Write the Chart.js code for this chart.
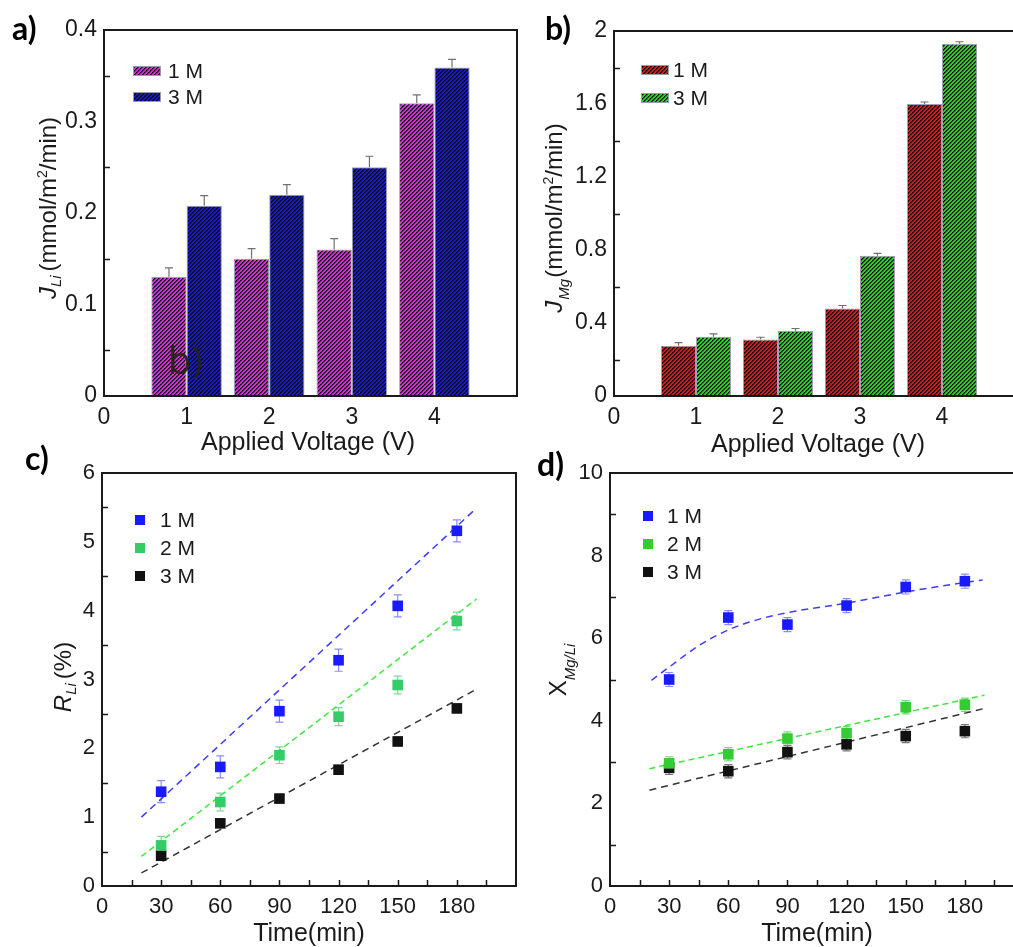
<!DOCTYPE html>
<html><head><meta charset="utf-8">
<script src="https://cdn.jsdelivr.net/npm/chart.js@4.4.1/dist/chart.umd.min.js"></script>
<style>
html,body{margin:0;padding:0;background:#fff;overflow:hidden;width:1013px;height:947px;}
canvas{position:absolute;left:0;top:0;}
</style></head><body>
<canvas id="ca" width="1040" height="947"></canvas>
<canvas id="cb" width="1040" height="947"></canvas>
<canvas id="cc" width="1040" height="947"></canvas>
<canvas id="cd" width="1040" height="947"></canvas>
<script>
// ---------------- data ----------------
const voltages = [1, 2, 3, 4];
const jLi1M = [0.130, 0.150, 0.160, 0.320];
const jLi1MErr = [0.010, 0.011, 0.012, 0.009];
const jLi3M = [0.208, 0.220, 0.250, 0.359];
const jLi3MErr = [0.011, 0.011, 0.012, 0.009];
const jMg1M = [0.276, 0.310, 0.480, 1.600];
const jMg1MErr = [0.016, 0.012, 0.016, 0.011];
const jMg3M = [0.325, 0.356, 0.769, 1.930];
const jMg3MErr = [0.015, 0.014, 0.013, 0.011];

const times = [30, 60, 90, 120, 150, 180];
const rLi1M = [1.37, 1.73, 2.54, 3.28, 4.07, 5.16];
const rLi1MErr = [0.16, 0.16, 0.16, 0.16, 0.16, 0.16];
const rLi2M = [0.59, 1.22, 1.90, 2.46, 2.92, 3.85];
const rLi2MErr = [0.13, 0.13, 0.12, 0.13, 0.13, 0.13];
const rLi3M = [0.44, 0.91, 1.27, 1.69, 2.10, 2.58];
const rLi3MErr = [0.06, 0.06, 0.06, 0.06, 0.06, 0.06];
const rLiFitT = [20, 190];
const rLiFit1M = [1.00, 5.49];
const rLiFit2M = [0.43, 4.17];
const rLiFit3M = [0.19, 2.86];

const xMgLi1M = [5.00, 6.50, 6.33, 6.79, 7.24, 7.38];
const xMgLi1MErr = [0.17, 0.17, 0.17, 0.17, 0.17, 0.17];
const xMgLi2M = [2.97, 3.19, 3.57, 3.70, 4.33, 4.39];
const xMgLi2MErr = [0.16, 0.16, 0.16, 0.16, 0.16, 0.16];
const xMgLi3M = [2.86, 2.78, 3.24, 3.43, 3.63, 3.75];
const xMgLi3MErr = [0.16, 0.16, 0.16, 0.16, 0.16, 0.16];
const xFit1MT = [21, 30, 45, 60, 75, 90, 120, 150, 180, 189];
const xFit1M = [4.98, 5.30, 5.82, 6.20, 6.45, 6.62, 6.85, 7.12, 7.35, 7.41];
const xFitLinT = [20, 190];
const xFit2M = [2.84, 4.62];
const xFit3M = [2.32, 4.30];

const barLabels = ['1 M', '3 M'];
const concLabels = ['1 M', '2 M', '3 M'];

// ---------------- helpers ----------------
const FONT = "'Liberation Sans', Arial, sans-serif";
const TXT = '#1a1a1a';
const W = 1040, H = 947;

function pts(xs, ys) { return xs.map((x, i) => ({ x: x, y: ys[i] })); }

function hatch(ctx, rgb) {
  const c = document.createElement('canvas'); c.width = 4; c.height = 4;
  const g = c.getContext('2d');
  const id = g.createImageData(4, 4);
  for (let y = 0; y < 4; y++) for (let x = 0; x < 4; x++) {
    const k = (y * 4 + x) * 4, m = (x + y) % 4;
    let col = rgb;
    if (m === 0) col = [10, 10, 10];
    else if (m === 1) col = [rgb[0] * 0.45, rgb[1] * 0.45, rgb[2] * 0.45];
    id.data[k] = col[0]; id.data[k + 1] = col[1]; id.data[k + 2] = col[2]; id.data[k + 3] = 255;
  }
  g.putImageData(id, 0, 0);
  return ctx.createPattern(c, 'repeat');
}

function drawRich(ctx, x, y, segs, rotate) {
  ctx.save();
  ctx.translate(x, y);
  if (rotate) ctx.rotate(-Math.PI / 2);
  let total = 0;
  segs.forEach(s => { ctx.font = s.font; s.w = ctx.measureText(s.t).width; total += s.w + (s.gap || 0); });
  let cx = -total / 2;
  ctx.textBaseline = 'alphabetic'; ctx.textAlign = 'left'; ctx.fillStyle = TXT;
  segs.forEach(s => { ctx.font = s.font; ctx.fillText(s.t, cx, s.dy || 0); cx += s.w + (s.gap || 0); });
  ctx.restore();
}

function panelPlugin(cfg) {
  return {
    id: 'panel',
    beforeDatasetsDraw(chart) {
      const ctx = chart.ctx, ys = chart.scales.y;
      chart.data.datasets.forEach((ds, i) => {
        if (!ds.errors) return;
        const meta = chart.getDatasetMeta(i);
        ctx.save();
        ctx.strokeStyle = ds.errColor; ctx.lineWidth = 1.2;
        meta.data.forEach((el, j) => {
          const v = ds.data[j].y, e = ds.errors[j];
          const x = el.x;
          const yt = ys.getPixelForValue(v + e);
          const yb = cfg.bars ? el.y : ys.getPixelForValue(v - e);
          const cw = 4;
          ctx.beginPath();
          ctx.moveTo(x, yb); ctx.lineTo(x, yt);
          ctx.moveTo(x - cw, yt); ctx.lineTo(x + cw, yt);
          if (!cfg.bars) { ctx.moveTo(x - cw, yb); ctx.lineTo(x + cw, yb); }
          ctx.stroke();
        });
        ctx.restore();
      });
    },
    afterDraw(chart) {
      const ctx = chart.ctx, a = chart.chartArea, xs = chart.scales.x, ys = chart.scales.y;
      ctx.save();
      // frame
      ctx.strokeStyle = '#1a1a1a'; ctx.lineWidth = 2;
      ctx.strokeRect(a.left, a.top, a.right - a.left, a.bottom - a.top);
      // inward ticks
      ctx.lineWidth = 1.5;
      ctx.beginPath();
      for (let v = cfg.yTick[0]; v < ys.max - 1e-9; v += cfg.yTick[1]) {
        const p = Math.round(ys.getPixelForValue(v)) + 0.5;
        ctx.moveTo(a.left, p); ctx.lineTo(a.left + 6, p);
      }
      if (cfg.xTick) {
        for (let v = cfg.xTick[0]; v < xs.max - 1e-9; v += cfg.xTick[1]) {
          const p = Math.round(xs.getPixelForValue(v)) + 0.5;
          ctx.moveTo(p, a.bottom); ctx.lineTo(p, a.bottom - 6);
        }
      }
      ctx.stroke();
      // legend
      const L = cfg.legend;
      L.items.forEach((di, k) => {
        const ds = chart.data.datasets[di];
        const cy = L.y0 + k * L.dy;
        if (cfg.bars) {
          ctx.fillStyle = ds.backgroundColor;
          ctx.fillRect(L.x, cy - 4.5, 28, 9);
          ctx.strokeStyle = '#9a9aaa'; ctx.lineWidth = 1;
          ctx.strokeRect(L.x + 0.5, cy - 4.5, 27, 9);
        } else {
          ctx.fillStyle = ds.backgroundColor;
          ctx.fillRect(L.x - 5, cy - 5, 10, 10);
        }
        ctx.fillStyle = TXT; ctx.font = '21px ' + FONT;
        ctx.textBaseline = 'middle'; ctx.textAlign = 'left';
        ctx.fillText(ds.label, L.tx, cy + 1);
      });
      ctx.restore();
      // titles
      cfg.texts.forEach(t => drawRich(ctx, t.x, t.y, t.segs, t.rotate));
      // panel letter
      ctx.save();
      ctx.fillStyle = '#000'; ctx.font = 'bold 32px Lato, "Open Sans", sans-serif';
      ctx.textBaseline = 'alphabetic'; ctx.textAlign = 'left';
      ctx.fillText(cfg.letter[0], cfg.letter[1], cfg.letter[2]);
      if (cfg.stray) {
        ctx.fillStyle = 'rgba(35,35,35,0.95)'; ctx.font = '38px "Open Sans", sans-serif';
        ctx.fillText(cfg.stray[0], cfg.stray[1], cfg.stray[2]);
      }
      ctx.restore();
    }
  };
}

function axisOpts(min, max, step, size, fitFn, cb, pad) {
  return {
    type: 'linear', min: min, max: max, offset: false,
    grid: { display: false, drawTicks: false }, border: { display: false },
    ticks: { stepSize: step, autoSkip: false, maxRotation: 0, padding: pad,
      font: { family: FONT, size: size }, color: TXT, callback: cb },
    afterFit: fitFn
  };
}

function barChart(id, area, yMax, yStep, ds, cfg) {
  const ctx = document.getElementById(id).getContext('2d');
  return new Chart(ctx, {
    type: 'bar',
    data: { datasets: ds(ctx) },
    options: {
      responsive: false, animation: false, devicePixelRatio: 1,
      layout: { padding: { top: area.T, right: W - area.R, left: 0, bottom: 0 } },
      plugins: { legend: { display: false }, tooltip: { enabled: false } },
      datasets: { bar: { categoryPercentage: 0.854, barPercentage: 1, borderWidth: 1, borderColor: '#a0a0b4' } },
      scales: {
        x: axisOpts(0, 5, 1, 23, s => { s.height = H - area.B; }, v => (v >= 5 ? '' : String(v)), 8),
        y: axisOpts(0, yMax, yStep, 23, s => { s.width = area.L; }, undefined, 7)
      }
    },
    plugins: [panelPlugin(cfg)]
  });
}

function scatterChart(id, area, yMax, yStep, ds, cfg) {
  const ctx = document.getElementById(id).getContext('2d');
  return new Chart(ctx, {
    type: 'scatter',
    data: { datasets: ds },
    options: {
      responsive: false, animation: false, devicePixelRatio: 1,
      layout: { padding: { top: area.T, right: W - area.R, left: 0, bottom: 0 } },
      plugins: { legend: { display: false }, tooltip: { enabled: false } },
      scales: {
        x: axisOpts(0, 210, 30, 22, s => { s.height = H - area.B; }, v => (v >= 210 ? '' : String(v)), 8),
        y: axisOpts(0, yMax, yStep, 22, s => { s.width = area.L; }, undefined, 7)
      }
    },
    plugins: [panelPlugin(cfg)]
  });
}

const MAG = [220, 40, 220], BLU = [24, 24, 225], RED = [214, 24, 24], GRN = [30, 214, 30];
const F = (s, it) => (it ? 'italic ' : '') + s + 'px ' + FONT;

// ---------------- a) ----------------
barChart('ca', { L: 104, T: 30, R: 517, B: 396 }, 0.4, 0.1, ctx => [
  { label: barLabels[0], data: pts(voltages, jLi1M), errors: jLi1MErr, errColor: '#707070', backgroundColor: hatch(ctx, MAG) },
  { label: barLabels[1], data: pts(voltages, jLi3M), errors: jLi3MErr, errColor: '#707070', backgroundColor: hatch(ctx, BLU) }
], {
  bars: true, yTick: [0.05, 0.1],
  legend: { items: [0, 1], x: 133, y0: 71, dy: 26, tx: 168 },
  letter: ['a)', 12, 40], stray: ['b)', 168, 374],
  texts: [
    { x: 308, y: 450, segs: [{ t: 'Applied Voltage (V)', font: F(25) }] },
    { x: 56, y: 208, rotate: true, segs: [
      { t: 'J', font: F(24, true) }, { t: 'Li', font: F(15, true), dy: 5, gap: 4 },
      { t: '(mmol/m', font: F(24) }, { t: '2', font: F(14), dy: -9 }, { t: '/min)', font: F(24) }] }
  ]
});

// ---------------- b) ----------------
barChart('cb', { L: 614, T: 31, R: 1024, B: 396 }, 2, 0.4, ctx => [
  { label: barLabels[0], data: pts(voltages, jMg1M), errors: jMg1MErr, errColor: '#707070', backgroundColor: hatch(ctx, RED) },
  { label: barLabels[1], data: pts(voltages, jMg3M), errors: jMg3MErr, errColor: '#707070', backgroundColor: hatch(ctx, GRN) }
], {
  bars: true, yTick: [0.2, 0.4],
  legend: { items: [0, 1], x: 641, y0: 70, dy: 28, tx: 673 },
  letter: ['b)', 545, 40],
  texts: [
    { x: 818, y: 452, segs: [{ t: 'Applied Voltage (V)', font: F(25) }] },
    { x: 562, y: 218, rotate: true, segs: [
      { t: 'J', font: F(24, true), gap: 1 }, { t: 'Mg', font: F(15, true), dy: 7, gap: 1 },
      { t: '(mmol/m', font: F(24) }, { t: '2', font: F(14), dy: -9 }, { t: '/min)', font: F(24) }] }
  ]
});

// ---------------- c) ----------------
const cBlue = '#1a1aff', cGreen = '#33cc66', cBlack = '#111111';
scatterChart('cc', { L: 102, T: 473, R: 516, B: 886 }, 6, 1, [
  { label: concLabels[0], data: pts(times, rLi1M), errors: rLi1MErr, errColor: '#8c8cff', backgroundColor: cBlue, borderWidth: 0, pointStyle: 'rect', pointRadius: 7.5 },
  { label: concLabels[1], data: pts(times, rLi2M), errors: rLi2MErr, errColor: '#7fd89f', backgroundColor: cGreen, borderWidth: 0, pointStyle: 'rect', pointRadius: 7.5 },
  { label: concLabels[2], data: pts(times, rLi3M), errors: rLi3MErr, errColor: '#777777', backgroundColor: cBlack, borderWidth: 0, pointStyle: 'rect', pointRadius: 7.5 },
  { type: 'line', data: pts(rLiFitT, rLiFit1M), borderColor: '#3c3cff', borderWidth: 1.5, borderDash: [7, 5], pointRadius: 0, fill: false },
  { type: 'line', data: pts(rLiFitT, rLiFit2M), borderColor: '#3ce83c', borderWidth: 1.5, borderDash: [6, 4], pointRadius: 0, fill: false },
  { type: 'line', data: pts(rLiFitT, rLiFit3M), borderColor: '#333333', borderWidth: 1.5, borderDash: [7, 5], pointRadius: 0, fill: false }
], {
  bars: false, yTick: [0.5, 1], xTick: [15, 15],
  legend: { items: [0, 1, 2], x: 140, y0: 520, dy: 28, tx: 160 },
  letter: ['c)', 25, 470],
  texts: [
    { x: 309, y: 941, segs: [{ t: 'Time(min)', font: F(25) }] },
    { x: 71, y: 677, rotate: true, segs: [
      { t: 'R', font: F(24, true) }, { t: 'Li', font: F(15, true), dy: 5, gap: 4 }, { t: '(%)', font: F(24) }] }
  ]
});

// ---------------- d) ----------------
const dBlue = '#1a1aff', dGreen = '#33cc33', dBlack = '#111111';
scatterChart('cd', { L: 610, T: 473, R: 1024, B: 886 }, 10, 2, [
  { label: concLabels[0], data: pts(times, xMgLi1M), errors: xMgLi1MErr, errColor: '#8c8cff', backgroundColor: dBlue, borderWidth: 0, pointStyle: 'rect', pointRadius: 7.5 },
  { label: concLabels[1], data: pts(times, xMgLi2M), errors: xMgLi2MErr, errColor: '#7fd87f', backgroundColor: dGreen, borderWidth: 0, pointStyle: 'rect', pointRadius: 7.5 },
  { label: concLabels[2], data: pts(times, xMgLi3M), errors: xMgLi3MErr, errColor: '#777777', backgroundColor: dBlack, borderWidth: 0, pointStyle: 'rect', pointRadius: 7.5 },
  { type: 'line', data: pts(xFit1MT, xFit1M), borderColor: '#3c3cff', borderWidth: 1.5, borderDash: [7, 5], pointRadius: 0, fill: false, cubicInterpolationMode: 'monotone' },
  { type: 'line', data: pts(xFitLinT, xFit2M), borderColor: '#3ce83c', borderWidth: 1.5, borderDash: [6, 4], pointRadius: 0, fill: false },
  { type: 'line', data: pts(xFitLinT, xFit3M), borderColor: '#333333', borderWidth: 1.5, borderDash: [7, 5], pointRadius: 0, fill: false }
], {
  bars: false, yTick: [1, 2], xTick: [15, 15],
  legend: { items: [0, 1, 2], x: 648, y0: 516, dy: 28, tx: 667 },
  letter: ['d)', 537, 476],
  texts: [
    { x: 817, y: 941, segs: [{ t: 'Time(min)', font: F(25) }] },
    { x: 566, y: 670, rotate: true, segs: [
      { t: 'X', font: F(24) }, { t: 'Mg/Li', font: F(15, true), dy: 9 }] }
  ]
});
</script>
</body></html>
